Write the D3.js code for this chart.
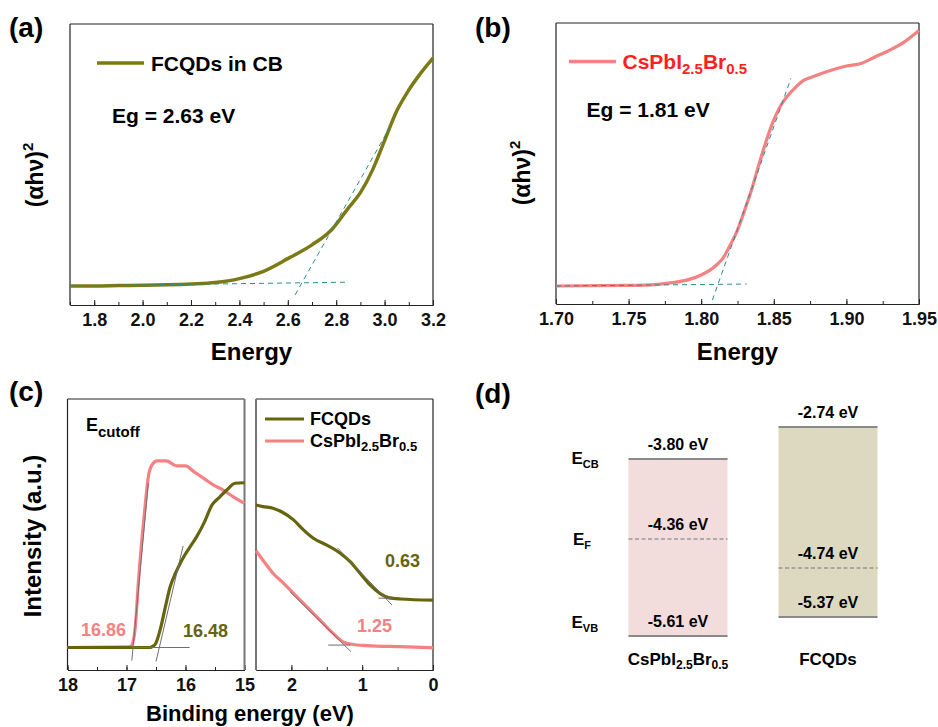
<!DOCTYPE html>
<html>
<head>
<meta charset="utf-8">
<script src="https://cdn.jsdelivr.net/npm/d3@7"></script>
<style>
  body { margin: 0; background: #fff; }
  svg { font-family: "Liberation Sans", Arial, sans-serif; font-weight: bold; }
  .axis text { font-size: 18px; font-weight: bold; fill: #111; }
  .axis path, .axis line { stroke: #222; }
</style>
</head>
<body>
<script>
// ---- data ----
// (a) Tauc plot FCQDs: [energy, (ahv)^2 normalised]
var fcqdTauc = [[1.7,0.068],[1.8,0.068],[1.9,0.069],[2.0,0.070],[2.1,0.072],[2.2,0.075],[2.3,0.080],
  [2.4,0.094],[2.5,0.120],[2.6,0.165],[2.7,0.214],[2.78,0.267],[2.85,0.345],[2.9,0.40],[2.95,0.48],
  [3.0,0.585],[3.05,0.69],[3.1,0.765],[3.15,0.826],[3.2,0.879]];
var fcqdFit = [[[1.7,0.068],[2.84,0.081]], [[2.63,0.036],[3.02,0.630]]];
var fcqdGap = "Eg = 2.63 eV";

// (b) Tauc plot CsPbI2.5Br0.5
var pskTauc = [[1.70,0.064],[1.75,0.066],[1.77,0.070],[1.78,0.076],[1.79,0.085],[1.80,0.103],[1.81,0.136],
  [1.815,0.163],[1.82,0.210],[1.825,0.263],[1.83,0.335],[1.835,0.412],[1.84,0.501],[1.845,0.584],
  [1.85,0.655],[1.855,0.708],[1.86,0.744],[1.865,0.771],[1.87,0.794],[1.875,0.805],[1.88,0.815],
  [1.89,0.833],[1.90,0.847],[1.91,0.856],[1.92,0.880],[1.93,0.904],[1.94,0.933],[1.95,0.973]];
var pskFit = [[[1.70,0.064],[1.8313,0.071]], [[1.8077,0.014],[1.8618,0.803]]];
var pskGap = "Eg = 1.81 eV";

// (c) UPS, cutoff region (binding energy 18 -> 15)
var upsCutPsk = [[18,0.083],[16.95,0.085],[16.91,0.092],[16.85,0.160],[16.80,0.321],[16.74,0.480],
  [16.68,0.616],[16.63,0.713],[16.57,0.756],[16.48,0.772],[16.32,0.772],[16.22,0.760],[16.15,0.753],
  [16.0,0.753],[15.86,0.732],[15.69,0.707],[15.53,0.683],[15.36,0.664],[15.19,0.639],[15.0,0.615]];
var upsCutFcqd = [[18,0.083],[16.60,0.083],[16.55,0.088],[16.51,0.096],[16.43,0.148],[16.34,0.234],
  [16.26,0.307],[16.17,0.357],[16.06,0.406],[15.92,0.455],[15.81,0.492],[15.69,0.541],[15.55,0.609],
  [15.44,0.634],[15.30,0.664],[15.16,0.689],[15.0,0.691]];
// (c) UPS, valence band onset region (2.5 -> 0)
var upsVbFcqd = [[2.5,0.609],[2.40,0.603],[2.26,0.597],[2.14,0.584],[1.97,0.554],[1.83,0.517],
  [1.69,0.486],[1.50,0.461],[1.31,0.431],[1.17,0.400],[1.03,0.357],[0.89,0.314],[0.75,0.283],
  [0.63,0.267],[0.46,0.262],[0.0,0.258]];
var upsVbPsk = [[2.5,0.440],[2.37,0.394],[2.26,0.357],[2.11,0.320],[1.97,0.283],[1.83,0.246],
  [1.69,0.209],[1.55,0.172],[1.41,0.135],[1.27,0.104],[1.15,0.095],[0.93,0.090],[0.46,0.086],[0.0,0.082]];
var cutFits = [[[16.91,0.035],[16.63,0.689]], [[16.50,0.031],[16.04,0.458]], [[16.91,0.083],[15.93,0.083]]];
var vbFits = [[[1.35,0.451],[0.58,0.240]], [[0.77,0.265],[0.56,0.265]],
  [[2.02,0.289],[1.16,0.068]], [[1.48,0.092],[1.17,0.092]]];
var cutoffValues = ["16.86", "16.48"];
var onsetValues = ["0.63", "1.25"];

// (d) energy levels (eV)
var materials = ["CsPbI2.5Br0.5", "FCQDs"];
var levelCB = [-3.80, -2.74];
var levelF = [-4.36, -4.74];
var levelVB = [-5.61, -5.37];

// ---- setup ----
var width = 938, height = 727;
var olive = "#7b7a14", oliveDark = "#66640f", pink = "#f58282", teal = "#2b8c90";

var svg = d3.select("body").append("svg")
  .attr("width", width)
  .attr("height", height);

// draw a framed panel with a bottom axis (ticks pointing in)
function frame(x, y, major, minor, fmt, edgeL, edgeR) {
  var g = svg.append("g");
  var x0 = x.range()[0], x1 = x.range()[1], y0 = y.range()[0], y1 = y.range()[1];
  g.append("g").attr("class", "axis")
    .attr("transform", "translate(0," + y0 + ")")
    .call(d3.axisBottom(x).tickValues(minor).tickFormat("").tickSize(-3).tickSizeOuter(0));
  g.append("g").attr("class", "axis")
    .attr("transform", "translate(0," + y0 + ")")
    .call(d3.axisBottom(x).tickValues(major).tickFormat(fmt).tickSize(-5).tickPadding(8).tickSizeOuter(0));
  g.append("line").attr("x1", x0).attr("x2", x1).attr("y1", y1).attr("y2", y1).attr("stroke", "#222");
  g.append("line").attr("x1", x0).attr("x2", x0).attr("y1", y0).attr("y2", y1)
    .attr("stroke", edgeL || "#222").attr("stroke-width", edgeL ? 2 : 1.2);
  g.append("line").attr("x1", x1).attr("x2", x1).attr("y1", y0).attr("y2", y1)
    .attr("stroke", edgeR || "#222").attr("stroke-width", edgeR ? 2 : 1.2);
  return g;
}

function curve(x, y, data, color, w) {
  svg.append("path")
    .datum(data)
    .attr("fill", "none")
    .attr("stroke", color)
    .attr("stroke-width", w)
    .attr("stroke-linejoin", "round")
    .attr("d", d3.line().x(function(d) { return x(d[0]); }).y(function(d) { return y(d[1]); })
      .curve(d3.curveMonotoneX));
}

function fits(x, y, segs, color, dash) {
  svg.selectAll(null)
    .data(segs)
    .enter().append("line")
    .attr("x1", function(d) { return x(d[0][0]); })
    .attr("y1", function(d) { return y(d[0][1]); })
    .attr("x2", function(d) { return x(d[1][0]); })
    .attr("y2", function(d) { return y(d[1][1]); })
    .attr("stroke", color)
    .attr("stroke-width", 1)
    .attr("stroke-dasharray", dash);
}

function panelLabel(t, x, y) {
  svg.append("text").attr("x", x).attr("y", y).attr("font-size", 28).text(t);
}

function yLabel(x, y, size) {
  return svg.append("text")
    .attr("transform", "translate(" + x + "," + y + ") rotate(-90)")
    .attr("text-anchor", "middle")
    .attr("dy", "0.35em")
    .attr("font-size", size);
}

// text with subscripts: parts = [[text, isSub], ...]
function subText(sel, parts, big, small, shift) {
  parts.forEach(function(p, i) {
    var prevSub = i > 0 && parts[i - 1][1];
    sel.append("tspan")
      .attr("font-size", p[1] ? small : big)
      .attr("dy", p[1] ? shift : (prevSub ? -shift : 0))
      .text(p[0]);
  });
  return sel;
}

var pskParts = [["CsPbI", false], ["2.5", true], ["Br", false], ["0.5", true]];

// ---- (a) ----
var xa = d3.scaleLinear().domain([1.7, 3.2]).range([70, 433]);
var ya = d3.scaleLinear().domain([0, 1]).range([305, 24]);
frame(xa, ya, d3.range(1.8, 3.21, 0.2), d3.range(1.7, 3.21, 0.1), d3.format(".1f"));
curve(xa, ya, fcqdTauc, olive, 3.5);
fits(xa, ya, fcqdFit, teal, "5,4");
svg.append("line").attr("x1", 97).attr("x2", 144).attr("y1", 63).attr("y2", 63)
  .attr("stroke", olive).attr("stroke-width", 3.5);
svg.append("text").attr("x", 151).attr("y", 70.5).attr("font-size", 21).text("FCQDs in CB");
svg.append("text").attr("x", 112).attr("y", 123).attr("font-size", 21).text(fcqdGap);
svg.append("text").attr("x", 251.5).attr("y", 360).attr("text-anchor", "middle").attr("font-size", 24).text("Energy");
var la = yLabel(35, 175, 23);
la.append("tspan").text("(\u03b1h\u03bd)");
la.append("tspan").attr("font-size", 15).attr("dy", -10).text("2");
panelLabel("(a)", 9, 37);

// ---- (b) ----
var xb = d3.scaleLinear().domain([1.70, 1.95]).range([556, 919]);
var yb = d3.scaleLinear().domain([0, 1]).range([304, 23]);
frame(xb, yb, d3.range(1.70, 1.951, 0.05), d3.range(1.70, 1.951, 0.025), d3.format(".2f"));
curve(xb, yb, pskTauc, pink, 3.2);
fits(xb, yb, pskFit, teal, "5,4");
svg.append("line").attr("x1", 569).attr("x2", 616).attr("y1", 61.5).attr("y2", 61.5)
  .attr("stroke", pink).attr("stroke-width", 3.5);
subText(svg.append("text").attr("x", 622.5).attr("y", 68.5).attr("fill", "#ff1f1f"), pskParts, 21, 15, 5);
svg.append("text").attr("x", 586.5).attr("y", 116.5).attr("font-size", 21).text(pskGap);
svg.append("text").attr("x", 737.5).attr("y", 360).attr("text-anchor", "middle").attr("font-size", 24).text("Energy");
var lb = yLabel(521.5, 173, 23);
lb.append("tspan").text("(\u03b1h\u03bd)");
lb.append("tspan").attr("font-size", 15).attr("dy", -10).text("2");
panelLabel("(b)", 475, 37);

// ---- (c) ----
var xc1 = d3.scaleLinear().domain([18, 15]).range([67.5, 244.5]);
var xc2 = d3.scaleLinear().domain([2.5, 0]).range([256, 433]);
var yc = d3.scaleLinear().domain([0, 1]).range([670, 399]);
frame(xc1, yc, [18, 17, 16, 15], d3.range(15, 18.01, 0.5), d3.format("d"), null, "#777");
frame(xc2, yc, [2, 1, 0], d3.range(0, 2.51, 0.5), d3.format("d"), "#777", null);
curve(xc1, yc, upsCutPsk, pink, 3.2);
curve(xc1, yc, upsCutFcqd, oliveDark, 3.2);
curve(xc2, yc, upsVbFcqd, oliveDark, 3.2);
curve(xc2, yc, upsVbPsk, pink, 3.2);
fits(xc1, yc, cutFits, "#6f6f6f", null);
fits(xc2, yc, vbFits, "#6f6f6f", null);

subText(svg.append("text").attr("x", 86).attr("y", 431), [["E", false], ["cutoff", true]], 18, 15, 6);
svg.append("text").attr("x", 81).attr("y", 636).attr("font-size", 18).attr("fill", pink).text(cutoffValues[0]);
svg.append("text").attr("x", 183).attr("y", 637).attr("font-size", 18).attr("fill", oliveDark).text(cutoffValues[1]);
svg.append("text").attr("x", 385).attr("y", 567).attr("font-size", 18).attr("fill", oliveDark).text(onsetValues[0]);
svg.append("text").attr("x", 357).attr("y", 632).attr("font-size", 18).attr("fill", pink).text(onsetValues[1]);

svg.append("line").attr("x1", 265).attr("x2", 304).attr("y1", 419).attr("y2", 419)
  .attr("stroke", oliveDark).attr("stroke-width", 3.2);
svg.append("text").attr("x", 310).attr("y", 425).attr("font-size", 18).text("FCQDs");
svg.append("line").attr("x1", 265).attr("x2", 304).attr("y1", 441).attr("y2", 441)
  .attr("stroke", pink).attr("stroke-width", 3.2);
subText(svg.append("text").attr("x", 310).attr("y", 447), pskParts, 18, 13, 4);

svg.append("text").attr("x", 250).attr("y", 721).attr("text-anchor", "middle").attr("font-size", 22)
  .text("Binding energy (eV)");
yLabel(33, 536, 24).text("Intensity (a.u.)");
panelLabel("(c)", 9, 401);

// ---- (d) ----
var xd = d3.scaleBand().domain(materials).range([603, 903]).paddingInner(0.34).paddingOuter(0.17);
// schematic (not-to-scale) level axis: piecewise linear between the drawn levels
var levelsSorted = levelCB.concat(levelF, levelVB).sort(d3.ascending);
var yd = d3.scaleLinear().domain(levelsSorted).range([636, 617, 568, 539, 459, 427]);
var fills = ["#f2dcdc", "#ddd9c1"];

var bands = svg.append("g").selectAll("g")
  .data(materials)
  .enter().append("g");
bands.append("rect")
  .attr("x", function(d) { return xd(d); })
  .attr("width", xd.bandwidth())
  .attr("y", function(d, i) { return yd(levelCB[i]); })
  .attr("height", function(d, i) { return yd(levelVB[i]) - yd(levelCB[i]); })
  .attr("fill", function(d, i) { return fills[i]; });
[levelCB, levelVB].forEach(function(lv) {
  bands.append("line")
    .attr("x1", function(d) { return xd(d); })
    .attr("x2", function(d) { return xd(d) + xd.bandwidth(); })
    .attr("y1", function(d, i) { return yd(lv[i]); })
    .attr("y2", function(d, i) { return yd(lv[i]); })
    .attr("stroke", "#8a8a8a").attr("stroke-width", 2);
});
bands.append("line")
  .attr("x1", function(d) { return xd(d); })
  .attr("x2", function(d) { return xd(d) + xd.bandwidth(); })
  .attr("y1", function(d, i) { return yd(levelF[i]); })
  .attr("y2", function(d, i) { return yd(levelF[i]); })
  .attr("stroke", "#777").attr("stroke-width", 1.2).attr("stroke-dasharray", "4,2.5");
[levelCB, levelF, levelVB].forEach(function(lv) {
  bands.append("text")
    .attr("x", function(d) { return xd(d) + xd.bandwidth() / 2; })
    .attr("y", function(d, i) { return yd(lv[i]) - 9; })
    .attr("text-anchor", "middle")
    .attr("font-size", 16)
    .text(function(d, i) { return lv[i].toFixed(2) + " eV"; });
});
subText(bands.filter(function(d, i) { return i == 0; }).append("text")
  .attr("x", xd(materials[0]) + xd.bandwidth() / 2).attr("y", 665).attr("text-anchor", "middle"),
  pskParts, 17, 12, 4);
bands.filter(function(d, i) { return i == 1; }).append("text")
  .attr("x", xd(materials[1]) + xd.bandwidth() / 2).attr("y", 665).attr("text-anchor", "middle")
  .attr("font-size", 17).text("FCQDs");

subText(svg.append("text").attr("x", 571.5).attr("y", yd(levelCB[0]) + 5), [["E", false], ["CB", true]], 17, 11, 4);
subText(svg.append("text").attr("x", 573).attr("y", yd(levelF[0]) + 6), [["E", false], ["F", true]], 17, 11, 4);
subText(svg.append("text").attr("x", 571.5).attr("y", yd(levelVB[0]) - 8), [["E", false], ["VB", true]], 17, 11, 4);
panelLabel("(d)", 475, 403);
</script>
</body>
</html>
